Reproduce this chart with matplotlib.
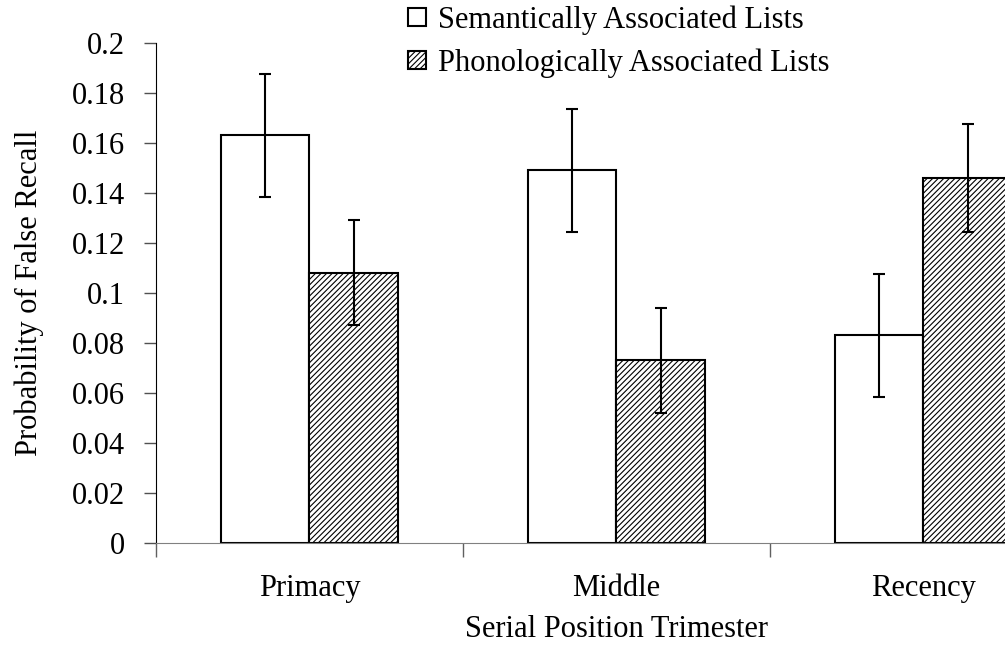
import numpy as np
import matplotlib
matplotlib.use("Agg")
import matplotlib.pyplot as plt

plt.rcParams['font.family'] = ['Liberation Serif', 'DejaVu Serif']
plt.rcParams['hatch.linewidth'] = 0.8

positions = ["Primacy", "Middle", "Recency"]
semantic = [0.163, 0.149, 0.083]
semantic_err = [0.0246, 0.0245, 0.0246]
phonologic = [0.108, 0.073, 0.146]
phonologic_err = [0.021, 0.021, 0.0215]
yticks = [0, 0.02, 0.04, 0.06, 0.08, 0.1, 0.12, 0.14, 0.16, 0.18, 0.2]

FS = 22

fig = plt.figure(figsize=(10.05, 6.53), dpi=100)
ax = fig.add_axes([0.1552, 0.1685, 0.9164, 0.7657])

x = np.arange(len(positions)) + 0.5
w = 0.287

ax.bar(x - w / 2, semantic, w, color="white", edgecolor="black", linewidth=1.5,
       label="Semantically Associated Lists", zorder=2)
ax.bar(x + w / 2, phonologic, w, color="white", edgecolor="black", linewidth=1.5,
       hatch="//////", label="Phonologically Associated Lists", zorder=2)
ax.errorbar(x - w / 2, semantic, yerr=semantic_err, fmt="none", ecolor="black",
            elinewidth=1.5, capsize=4, capthick=1.5, zorder=3)
ax.errorbar(x + w / 2, phonologic, yerr=phonologic_err, fmt="none", ecolor="black",
            elinewidth=1.5, capsize=4, capthick=1.5, zorder=3)

ax.set_xlim(0, 3)
ax.set_ylim(0, 0.2)
ax.set_yticks(yticks)
ax.set_yticklabels(["{:g}".format(v) for v in yticks])

# boundary ticks between groups, labels at group centers
ax.set_xticks([0, 1, 2, 3])
ax.set_xticklabels([])
ax.set_xticks(x, minor=True)
ax.set_xticklabels(positions, minor=True)
ax.tick_params(axis="x", which="major", length=10, width=1, color="#606060")
ax.tick_params(axis="x", which="minor", length=0, pad=22, labelsize=FS)
ax.tick_params(axis="y", length=9, width=1, pad=13.5, labelsize=FS, color="#505050")

for s in ["top", "right"]:
    ax.spines[s].set_visible(False)
ax.spines["bottom"].set_color("#808080")
ax.spines["left"].set_color("black")

ax.set_xlabel("Serial Position Trimester", fontsize=FS, labelpad=9)
fig.text(29 / 1005, 1 - 293 / 653, "Probability of False Recall", fontsize=FS,
         rotation=90, ha="center", va="center")

fig.legend(loc="upper left", bbox_to_anchor=(0.406, 0.992), frameon=False,
           fontsize=FS, handlelength=0.58, handleheight=0.55, handletextpad=0.4,
           labelspacing=0.45, borderaxespad=0, borderpad=0)

fig.savefig("out.png", dpi=100)
